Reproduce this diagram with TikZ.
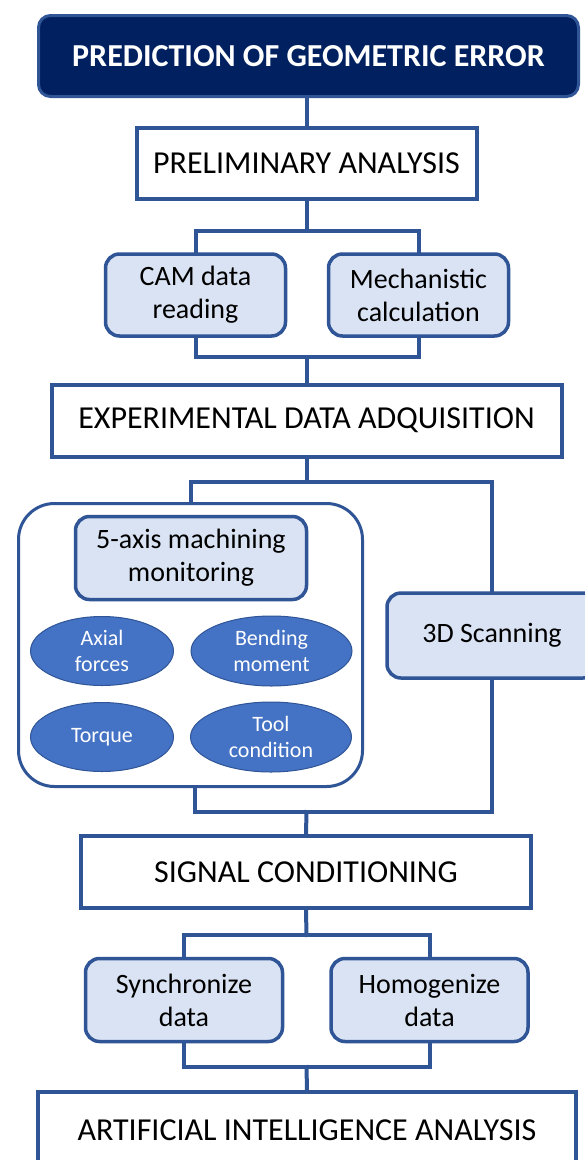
\documentclass[tikz,border=0pt]{standalone}
\usepackage{fontspec}
\setmainfont{Carlito}
\usetikzlibrary{shapes.geometric,calc}
\definecolor{navy}{HTML}{002060}
\definecolor{edge}{HTML}{2F5597}
\definecolor{pale}{HTML}{DAE3F3}
\definecolor{oval}{HTML}{4472C4}
\tikzset{
  headbox/.style={draw=edge, line width=3pt, fill=navy, rounded corners=12pt,
    text=white, font=\fontsize{32}{36}\selectfont\bfseries, inner sep=0pt},
  stagebox/.style={draw=edge, line width=4pt, fill=white,
    font=\fontsize{32}{36}\selectfont, inner sep=0pt},
  taskbox/.style={draw=edge, line width=3.5pt, fill=pale, rounded corners=14pt,
    align=center, font=\fontsize{28}{33}\selectfont, inner sep=0pt},
  groupbox/.style={draw=edge, line width=3pt, fill=white, rounded corners=36pt, inner sep=0pt},
  signal/.style={ellipse, draw=edge, line width=1pt, fill=oval, text=white,
    align=center, font=\fontsize{22}{26}\selectfont, inner sep=0pt},
  link/.style={draw=edge, line width=4pt, line cap=rect, line join=miter}
}
\begin{document}
\begin{tikzpicture}[x=1pt,y=-1pt]
\clip (0,0) rectangle (585,1160);
\fill[white] (0,0) rectangle (585,1160);

% junction points of the branching links
\coordinate (j1) at (306.5,231);
\coordinate (j2) at (306.5,357);
\coordinate (j3) at (306.5,482);
\coordinate (j4) at (306.5,812);
\coordinate (j5) at (306.5,935);
\coordinate (j6) at (306.5,1067);

% stages and tasks
\node[headbox, minimum width=540pt, minimum height=81pt] (title) at (308.5,56) {PREDICTION OF GEOMETRIC ERROR};
\node[stagebox, minimum width=340pt, minimum height=71pt] (prelim) at (306.5,163) {PRELIMINARY ANALYSIS};
\node[taskbox, minimum width=180pt, minimum height=82pt] (cam) at (195.5,295) {CAM data\\reading};
\node[taskbox, minimum width=180pt, minimum height=82pt] (mech) at (418.5,295) {Mechanistic\\calculation};
\node[stagebox, minimum width=510pt, minimum height=72pt] (exp) at (306.5,420.5) {EXPERIMENTAL DATA ADQUISITION};

\node[groupbox, minimum width=344pt, minimum height=283pt] (group) at (190.5,645) {};
\node[taskbox, minimum width=231pt, minimum height=83pt] (monitor) at (191,558) {5-axis machining\\monitoring};
\node[signal, minimum width=143pt, minimum height=69pt] (axial) at (102,651) {Axial\\forces};
\node[signal, minimum width=161pt, minimum height=70pt] (bending) at (271.5,651) {Bending\\moment};
\node[signal, minimum width=143pt, minimum height=69pt] (torque) at (102,737) {Torque};
\node[signal, minimum width=161pt, minimum height=70pt] (tool) at (271,737) {Tool\\condition};
\node[taskbox, minimum width=210pt, minimum height=85pt] (scan) at (492,635.5) {3D Scanning};

\node[stagebox, minimum width=450pt, minimum height=72pt] (cond) at (306,872) {SIGNAL CONDITIONING};
\node[taskbox, minimum width=197pt, minimum height=83pt] (sync) at (184,1000) {Synchronize\\data};
\node[taskbox, minimum width=197pt, minimum height=83pt] (homog) at (429.5,1000) {Homogenize\\data};
\node[stagebox, minimum width=538pt, minimum height=76pt] (ai) at (307,1130) {ARTIFICIAL INTELLIGENCE ANALYSIS};

% links between the stages
\draw[link] (prelim.north) -- (prelim.north |- title.south);
\draw[link] (prelim.south) -- (j1);
\draw[link] (cam.north) |- (j1) -| (mech.north);
\draw[link] (cam.south) |- (j2) -| (mech.south);
\draw[link] (j2) -- (exp.north);
\draw[link] (exp.south) -- (j3);
\draw[link] (group.north) |- (j3) -| (scan.north);
\draw[link] ($(group.south)+(4,0)$) |- (j4) -| (scan.south);
\draw[link] (j4) -- (cond.north);
\draw[link] (cond.south) -- (j5);
\draw[link] (sync.north) |- (j5) -| (homog.north);
\draw[link] (sync.south) |- (j6) -| (homog.south);
\draw[link] (j6) -- (ai.north);
\end{tikzpicture}
\end{document}
